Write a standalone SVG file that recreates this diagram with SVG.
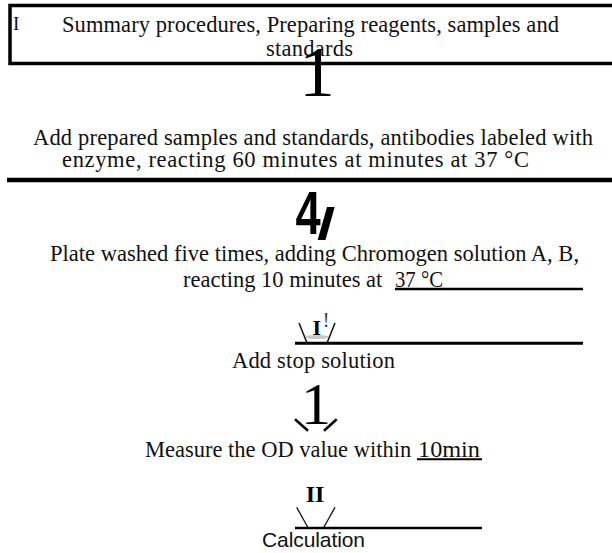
<svg xmlns="http://www.w3.org/2000/svg" width="612" height="553" viewBox="0 0 612 553">
<style>
.t{font-family:"Liberation Serif","Times New Roman",serif;font-size:22.5px;fill:#111}
.s{font-family:"Liberation Sans",Arial,sans-serif;font-size:21px;fill:#111}
.g{font-family:"Liberation Serif","Times New Roman",serif;fill:#000}
.gb{font-family:"Liberation Serif","Times New Roman",serif;font-weight:bold;fill:#000}
.gs{font-family:"Liberation Sans",Arial,sans-serif;font-weight:bold;fill:#000}
.ln{stroke:#000;fill:none}
.thin{stroke:#111;stroke-width:1.5;fill:none}
</style>
<rect width="612" height="553" fill="#fff"/>
<g id="node-summary">
<rect x="10" y="5.5" width="620" height="58" fill="none" stroke="#000" stroke-width="3.5"/>
<text class="t" x="13" y="29.5" style="font-size:19px">I</text>
<text class="t" x="62" y="31.5" textLength="497" lengthAdjust="spacing">Summary procedures, Preparing reagents, samples and</text>
<text class="t" x="266" y="55.5" textLength="87" lengthAdjust="spacing">standards</text>
</g>
<g id="node-add-samples">
<text class="t" x="33" y="145" textLength="560" lengthAdjust="spacing" font-family="Liberation Serif">Add prepared samples and standards, antibodies labeled with</text>
<text class="t" x="62" y="167" textLength="467" lengthAdjust="spacing" font-family="Liberation Serif">enzyme, reacting 60 minutes at minutes at 37 °C</text>
</g>
<g id="node-wash">
<text class="t" x="50" y="261" textLength="529" lengthAdjust="spacing">Plate washed five times, adding Chromogen solution A, B,</text>
<text class="t" x="183" y="287">reacting 10 minutes at <tspan x="395" textLength="48" lengthAdjust="spacingAndGlyphs">37 °C</tspan></text>
</g>
<g id="node-stop">
<text class="t" x="232" y="368" textLength="163" lengthAdjust="spacing">Add stop solution</text>
</g>
<g id="node-measure">
<text class="t" x="145" y="457">Measure the OD value within <tspan x="418" textLength="62" lengthAdjust="spacingAndGlyphs">10min</tspan></text>
</g>
<g id="node-calc">
<text class="s" x="262" y="547" textLength="103" lengthAdjust="spacing">Calculation</text>
</g>
<g id="connectors">
<line class="ln" x1="7" y1="180" x2="612" y2="180" stroke-width="4.5"/>
<text class="g" x="317" y="96" text-anchor="middle" style="font-size:71px">1</text>
<text class="gs" transform="translate(308,234) scale(0.73,1)" text-anchor="middle" style="font-size:62px">4</text>
<text class="gs" transform="translate(317,239) scale(1.5,1)" style="font-size:44px">/</text>
<line class="ln" x1="395" y1="289" x2="583" y2="289" stroke-width="2.5"/>
<ellipse cx="317" cy="337" rx="12" ry="2" fill="#c8c8c8"/>
<text class="gb" x="316.7" y="335" text-anchor="middle" style="font-size:22px">I</text>
<text class="g" x="326" y="327" text-anchor="middle" style="font-size:20px;fill:#333">!</text>
<line class="thin" x1="299" y1="323" x2="307" y2="343"/>
<line class="thin" x1="335" y1="323" x2="327" y2="343"/>
<line class="ln" x1="295" y1="343.3" x2="583" y2="343.3" stroke-width="3"/>
<text class="g" x="316" y="424" text-anchor="middle" style="font-size:60px">1</text>
<line class="ln" x1="295" y1="419.3" x2="308" y2="430.7" stroke-width="2.5"/>
<line class="ln" x1="336.7" y1="419.3" x2="324" y2="430.7" stroke-width="2.5"/>
<line class="ln" x1="417" y1="459.3" x2="482" y2="459.3" stroke-width="2"/>
<text class="gb" x="315" y="502" text-anchor="middle" style="font-size:24px">II</text>
<line class="thin" x1="296.7" y1="507.3" x2="308.3" y2="528.3" style="stroke-width:1.3"/>
<line class="thin" x1="335" y1="507.3" x2="323.3" y2="528.3" style="stroke-width:1.3"/>
<line class="ln" x1="295" y1="528" x2="482" y2="528" stroke-width="2.5"/>
</g>
</svg>
